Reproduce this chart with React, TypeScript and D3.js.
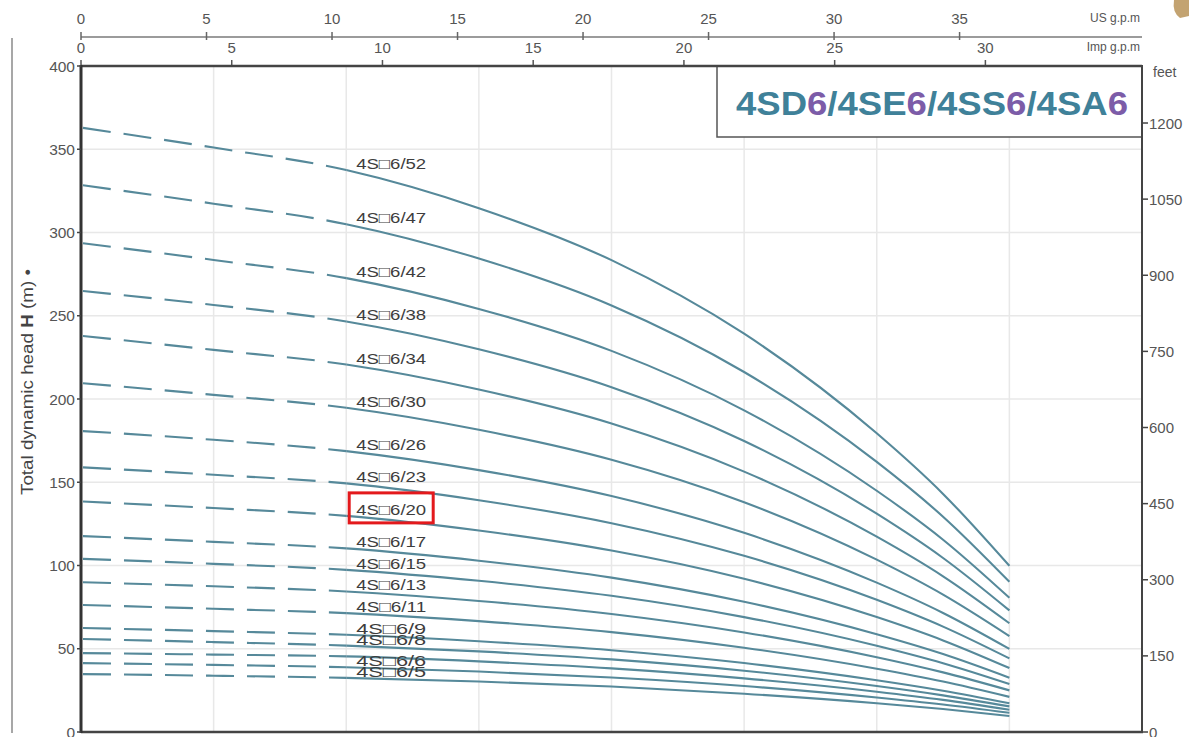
import React from "react";
import * as d3 from "d3";

// flow in l/min
const flows = [0, 20, 40, 60, 80, 100, 120, 130, 140];
const models = ["52", "47", "42", "38", "34", "30", "26", "23", "20", "17", "15", "13", "11", "9", "8", "7", "6", "5"];
const heads = [
  [363, 351, 337.5, 314.6, 283.4, 239.2, 179.4, 143, 99.8],
  [328.5, 317.3, 305, 284.4, 256.2, 216.2, 162.2, 129.3, 90.2],
  [293.7, 283.5, 272.6, 254.1, 228.9, 193.2, 144.9, 115.5, 80.6],
  [265, 256.5, 246.6, 229.9, 207.1, 174.8, 131.1, 104.5, 73],
  [238, 229.5, 220.7, 205.7, 185.3, 156.4, 117.3, 93.5, 65.3],
  [209.6, 202.5, 194.7, 181.5, 163.5, 138, 103.5, 82.5, 57.6],
  [180.8, 175.5, 168.7, 157.3, 141.7, 119.6, 89.7, 71.5, 49.9],
  [159, 154.5, 149.3, 139.2, 125.4, 105.8, 79.4, 63.3, 44.2],
  [138.5, 134.5, 129.8, 121, 109, 92, 69, 55, 38.4],
  [117.7, 114.2, 110.3, 102.9, 92.7, 78.2, 58.7, 46.8, 32.6],
  [104, 101, 97.4, 90.8, 81.8, 69, 51.8, 41.3, 28.8],
  [90, 87.5, 84.4, 78.7, 70.9, 59.8, 44.9, 35.8, 25],
  [76.3, 74, 71.4, 66.6, 60, 50.6, 38, 30.3, 21.1],
  [62.5, 60.6, 58.4, 54.5, 49.1, 41.4, 31.1, 24.8, 17.3],
  [55.9, 54, 51.9, 48.4, 43.6, 36.8, 27.6, 22, 15.4],
  [47.4, 46.5, 45.4, 42.4, 38.2, 32.2, 24.2, 19.3, 13.4],
  [41.4, 40.3, 38.9, 36.3, 32.7, 27.6, 20.7, 16.5, 11.5],
  [34.8, 33.8, 32.5, 30.3, 27.3, 23, 17.3, 13.8, 9.6],
];
const labelledModels = ["52", "47", "42", "38", "34", "30", "26", "23", "20", "17", "15", "13", "11", "9", "8", "6", "5"];
const highlightModel = "20";
const dashedUntilFlow = 40;

const headTicks = [0, 50, 100, 150, 200, 250, 300, 350, 400];
const feetTicks = [0, 150, 300, 450, 600, 750, 900, 1050, 1200];
const usTicks = [0, 5, 10, 15, 20, 25, 30, 35];
const impTicks = [0, 5, 10, 15, 20, 25, 30];
const flowGrid = [20, 40, 60, 80, 100, 120, 140];
const headGrid = [50, 100, 150, 200, 250, 300, 350];

const titleParts = [
  { t: "4SD", purple: false }, { t: "6", purple: true },
  { t: "/4SE", purple: false }, { t: "6", purple: true },
  { t: "/4SS", purple: false }, { t: "6", purple: true },
  { t: "/4SA", purple: false }, { t: "6", purple: true },
];

const W = 1189, H = 737;
const L = 81, R = 1142, T = 66, B = 732;
const FONT = "'Liberation Sans', Arial, sans-serif";

export default function App() {
  const x = d3.scaleLinear().domain([0, 160]).range([L, R]);
  const y = d3.scaleLinear().domain([0, 400]).range([B, T]);
  const xUS = d3.scaleLinear().domain([0, 160 / 3.78541]).range([L, R]);
  const xImp = d3.scaleLinear().domain([0, 160 / 4.54609]).range([L, R]);
  const yFt = d3.scaleLinear().domain([0, 400 * 3.28084]).range([B, T]);

  const line = d3
    .line<[number, number]>()
    .x((d) => x(d[0]))
    .y((d) => y(d[1]))
    .curve(d3.curveMonotoneX);

  const curveColor = "#56899a";
  const labelX = x(41.5);
  const xSplit = x(dashedUntilFlow);

  return (
    <svg width={W} height={H} style={{ display: "block", position: "absolute", left: 0, top: 0, background: "#fff" }} fontFamily={FONT}>
      <defs>
        <clipPath id="clipDash">
          <rect x={0} y={0} width={xSplit} height={H} />
        </clipPath>
        <clipPath id="clipSolid">
          <rect x={xSplit} y={0} width={W - xSplit} height={H} />
        </clipPath>
      </defs>
      <rect x={0} y={0} width={W} height={H} fill="#fff" />
      {/* grid */}
      {flowGrid.map((f) => (
        <line key={"gx" + f} x1={x(f)} x2={x(f)} y1={T} y2={B} stroke="#e8e8e8" strokeWidth={1.5} />
      ))}
      {headGrid.map((h) => (
        <line key={"gy" + h} x1={L} x2={R} y1={y(h)} y2={y(h)} stroke="#e8e8e8" strokeWidth={1.5} />
      ))}

      {/* curves */}
      {heads.map((hs, i) => {
        const pts: [number, number][] = flows.map((f, j) => [f, hs[j]]);
        const d = line(pts) || "";
        return (
          <g key={"c" + models[i]}>
            <path d={d} clipPath="url(#clipDash)" fill="none" stroke={curveColor} strokeWidth={2.1} strokeDasharray="28 13" strokeDashoffset={-2} />
            <path d={d} clipPath="url(#clipSolid)" fill="none" stroke={curveColor} strokeWidth={2.1} />
          </g>
        );
      })}

      {/* curve labels */}
      {heads.map((hs, i) => {
        const m = models[i];
        if (!labelledModels.includes(m)) return null;
        const yy = y(hs[2]) - 1;
        return (
          <text key={"l" + m} x={labelX} y={yy} fontSize={15} fill="#3d3d3d" textLength={70} lengthAdjust="spacingAndGlyphs">
            {"4S\u25A16/" + m}
          </text>
        );
      })}
      {heads.map((hs, i) =>
        models[i] === highlightModel ? (
          <rect key="hl" x={labelX - 7} y={y(hs[2]) - 23} width={84} height={30} fill="none" stroke="#e3191c" strokeWidth={3} />
        ) : null
      )}

      {/* title box */}
      <rect x={717} y={T} width={R - 717} height={71} fill="#fff" stroke="#555" strokeWidth={1.5} />
      <text x={736} y={115} fontSize={34} fontWeight="bold" textLength={392} lengthAdjust="spacingAndGlyphs">
        {titleParts.map((p, i) => (
          <tspan key={i} fill={p.purple ? "#7c5ca8" : "#3f8199"}>{p.t}</tspan>
        ))}
      </text>

      {/* left outer frame line */}
      <line x1={12} x2={12} y1={38} y2={733} stroke="#8a8a8a" strokeWidth={1.5} />

      {/* US axis */}
      <line x1={L} x2={R} y1={37} y2={37} stroke="#7a7a7a" strokeWidth={1.5} />
      {usTicks.map((t) => (
        <g key={"us" + t}>
          <line x1={xUS(t)} x2={xUS(t)} y1={32} y2={40} stroke="#666" strokeWidth={1.5} />
          <text x={xUS(t)} y={24} fontSize={15} textAnchor="middle" fill="#555">{t}</text>
        </g>
      ))}
      <text x={1140} y={22} fontSize={12} textAnchor="end" fill="#555">US g.p.m</text>

      {/* Imp axis (top of plot) */}
      {impTicks.map((t) => (
        <g key={"imp" + t}>
          <line x1={xImp(t)} x2={xImp(t)} y1={60} y2={T} stroke="#555" strokeWidth={1.5} />
          <text x={xImp(t)} y={53} fontSize={15} textAnchor="middle" fill="#555">{t}</text>
        </g>
      ))}
      <text x={1140} y={51} fontSize={12} textAnchor="end" fill="#555">Imp g.p.m</text>

      {/* plot frame */}
      <line x1={L} x2={R} y1={T} y2={T} stroke="#444" strokeWidth={2.5} />
      <line x1={L} x2={R + 1} y1={B} y2={B} stroke="#444" strokeWidth={2.5} />
      <line x1={L} x2={L} y1={T - 1} y2={B + 1} stroke="#333" strokeWidth={3} />
      <line x1={R} x2={R} y1={T - 1} y2={B + 1} stroke="#444" strokeWidth={2} />

      {/* left axis */}
      {headTicks.map((t) => (
        <g key={"h" + t}>
          <line x1={L - 4} x2={L} y1={y(t)} y2={y(t)} stroke="#444" strokeWidth={1.5} />
          <text x={L - 6} y={y(t) + 5.5} fontSize={15.5} textAnchor="end" fill="#555">{t}</text>
        </g>
      ))}
      <text transform={`translate(33,${382}) rotate(-90)`} fontSize={16.5} textAnchor="middle" fill="#444" textLength={226} lengthAdjust="spacingAndGlyphs">
        Total dynamic head <tspan fontWeight="bold">H</tspan> (m) •
      </text>

      {/* right axis feet */}
      {feetTicks.map((t) => (
        <g key={"ft" + t}>
          <line x1={R} x2={R + 6} y1={yFt(t)} y2={yFt(t)} stroke="#444" strokeWidth={1.5} />
          <text x={R + 7} y={yFt(t) + 5.5} fontSize={15} fill="#555">{t}</text>
        </g>
      ))}
      <text x={1153} y={77} fontSize={14} fill="#555">feet</text>

      {/* corner artifact */}
      <path d="M1174,0 L1189,0 L1189,16 L1180,18 Q1172,12 1174,0 Z" fill="#b48c4e" opacity={0.8} />
    </svg>
  );
}
